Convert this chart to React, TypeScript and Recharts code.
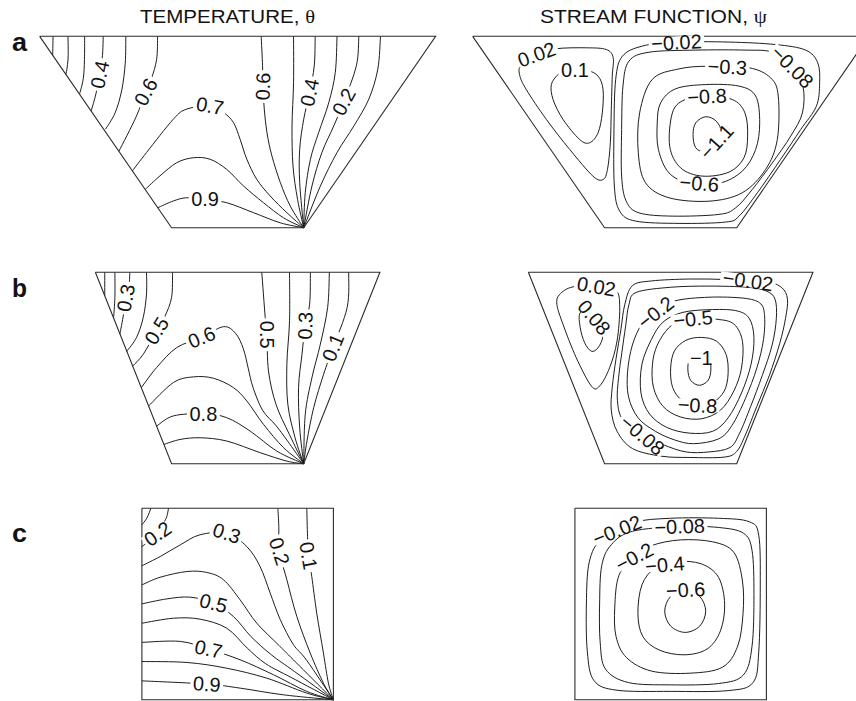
import React from 'react';
import { ComposedChart, Line, Scatter, XAxis, YAxis } from 'recharts';

type Pt = [number, number];
type Contour = { level: number; pts: Pt[] };
type Tag = { text: string; x: number; y: number; rot: number };

// ---- cavity outlines (x in units of depth, centred; y = height above floor) ----
const outlineA: Pt[] = [[-1.034, 1], [-0.345, 0], [0.345, 0], [1.034, 1], [-1.034, 1]];
const outlineB: Pt[] = [[-0.743, 1], [-0.345, 0], [0.345, 0], [0.743, 1], [-0.743, 1]];
const outlineC: Pt[] = [[-0.5, 1], [-0.5, 0], [0.5, 0], [0.5, 1], [-0.5, 1]];

// ---- row a : temperature ----
const tempALines: Contour[] = [
  { level: 0.1, pts: [[-0.964, 1], [-0.965, 0.95], [-0.966, 0.9]] },
  { level: 0.2, pts: [[-0.886, 1], [-0.885, 0.9], [-0.89, 0.84], [-0.897, 0.8]] },
  { level: 0.3, pts: [[-0.799, 1], [-0.8, 0.88], [-0.806, 0.78], [-0.825, 0.7]] },
  { level: 0.4, pts: [[-0.702, 1], [-0.706, 0.9], [-0.72, 0.8], [-0.74, 0.7], [-0.765, 0.61]] },
  { level: 0.5, pts: [[-0.584, 1], [-0.587, 0.86], [-0.605, 0.72], [-0.64, 0.6], [-0.69, 0.515]] },
  { level: 0.6, pts: [[-0.418, 1], [-0.423, 0.88], [-0.45, 0.78], [-0.48, 0.71], [-0.53, 0.58], [-0.62, 0.4]] },
  { level: 0.7, pts: [[-0.55, 0.297], [-0.476, 0.393], [-0.336, 0.567], [-0.266, 0.62], [-0.144, 0.637], [-0.074, 0.602], [-0.022, 0.55], [0.013, 0.462], [0.048, 0.358], [0.1, 0.253], [0.17, 0.166], [0.257, 0.079], [0.345, 0]] },
  { level: 0.8, pts: [[-0.483, 0.2], [-0.406, 0.271], [-0.318, 0.34], [-0.231, 0.366], [-0.144, 0.358], [-0.057, 0.305], [0.031, 0.218], [0.135, 0.131], [0.24, 0.052], [0.345, 0]] },
  { level: 0.9, pts: [[-0.417, 0.105], [-0.336, 0.14], [-0.266, 0.157], [-0.17, 0.148], [-0.057, 0.131], [0.083, 0.079], [0.223, 0.026], [0.345, 0]] },
  { level: 0.6, pts: [[0.123, 1], [0.13, 0.846], [0.132, 0.738], [0.139, 0.62], [0.153, 0.497], [0.179, 0.375], [0.223, 0.236], [0.275, 0.113], [0.345, 0]] },
  { level: 0.5, pts: [[0.292, 1], [0.292, 0.759], [0.284, 0.532], [0.289, 0.323], [0.313, 0.148], [0.345, 0]] },
  { level: 0.4, pts: [[0.405, 1], [0.4, 0.846], [0.376, 0.707], [0.345, 0.567], [0.324, 0.41], [0.324, 0.236], [0.345, 0]] },
  { level: 0.3, pts: [[0.519, 1], [0.51, 0.812], [0.476, 0.654], [0.423, 0.497], [0.38, 0.358], [0.353, 0.183], [0.345, 0]] },
  { level: 0.2, pts: [[0.633, 1], [0.62, 0.846], [0.554, 0.658], [0.502, 0.532], [0.44, 0.393], [0.388, 0.218], [0.345, 0]] },
  { level: 0.1, pts: [[0.746, 1], [0.732, 0.829], [0.685, 0.672], [0.607, 0.532], [0.519, 0.393], [0.432, 0.218], [0.345, 0]] },
];
const tempALabels: Tag[] = [
  { text: '0.4', x: -0.72, y: 0.8, rot: -78 },
  { text: '0.6', x: -0.48, y: 0.71, rot: -62 },
  { text: '0.7', x: -0.144, y: 0.637, rot: 10 },
  { text: '0.9', x: -0.17, y: 0.148, rot: 0 },
  { text: '0.6', x: 0.132, y: 0.738, rot: -88 },
  { text: '0.4', x: 0.376, y: 0.707, rot: -78 },
  { text: '0.2', x: 0.554, y: 0.658, rot: -62 },
];

// ---- row a : stream function ----
const psiALines: Contour[] = [
  { level: 0.02, pts: [[-0.78, 0.85], [-0.7, 0.905], [-0.6, 0.935], [-0.44, 0.94], [-0.336, 0.931], [-0.3, 0.888], [-0.305, 0.792], [-0.31, 0.618], [-0.315, 0.444], [-0.33, 0.305], [-0.353, 0.252], [-0.406, 0.27], [-0.527, 0.409], [-0.649, 0.566], [-0.754, 0.722], [-0.789, 0.8]] },
  { level: 0.1, pts: [[-0.588, 0.8], [-0.545, 0.827], [-0.44, 0.823], [-0.379, 0.792], [-0.353, 0.722], [-0.357, 0.6], [-0.379, 0.496], [-0.423, 0.444], [-0.475, 0.461], [-0.562, 0.566], [-0.614, 0.67], [-0.623, 0.748]] },
  { level: -0.02, pts: [[-0.252, 0.896], [-0.148, 0.949], [0.026, 0.97], [0.305, 0.97], [0.548, 0.957], [0.705, 0.928], [0.768, 0.862], [0.778, 0.757], [0.761, 0.635], [0.679, 0.513], [0.574, 0.357], [0.453, 0.183], [0.357, 0.061], [0.287, 0.03], [0.044, 0.023], [-0.183, 0.035], [-0.266, 0.087], [-0.294, 0.218], [-0.296, 0.513], [-0.287, 0.775]] },
  { level: -0.08, pts: [[-0.218, 0.87], [-0.113, 0.917], [0.131, 0.928], [0.392, 0.928], [0.531, 0.917], [0.635, 0.844], [0.691, 0.74], [0.688, 0.6], [0.627, 0.479], [0.531, 0.339], [0.426, 0.2], [0.339, 0.104], [0.252, 0.07], [0.009, 0.061], [-0.165, 0.078], [-0.232, 0.139], [-0.256, 0.27], [-0.256, 0.513], [-0.249, 0.74]] },
  { level: -0.3, pts: [[-0.096, 0.775], [0.044, 0.83], [0.2, 0.844], [0.409, 0.836], [0.522, 0.783], [0.562, 0.688], [0.557, 0.461], [0.496, 0.305], [0.374, 0.183], [0.2, 0.139], [-0.009, 0.157], [-0.131, 0.235], [-0.169, 0.392], [-0.162, 0.6]] },
  { level: -0.6, pts: [[-0.052, 0.653], [0.026, 0.726], [0.183, 0.748], [0.357, 0.74], [0.444, 0.688], [0.465, 0.548], [0.444, 0.409], [0.374, 0.296], [0.252, 0.232], [0.096, 0.235], [-0.009, 0.287], [-0.064, 0.409], [-0.07, 0.548]] },
  { level: -0.8, pts: [[0.009, 0.6], [0.07, 0.667], [0.183, 0.684], [0.322, 0.67], [0.388, 0.6], [0.402, 0.479], [0.383, 0.366], [0.305, 0.291], [0.165, 0.27], [0.052, 0.313], [-0.005, 0.426]] },
  { level: -1.1, pts: [[0.117, 0.487], [0.131, 0.548], [0.183, 0.58], [0.238, 0.557], [0.266, 0.496], [0.244, 0.426], [0.183, 0.395], [0.131, 0.418]] },
];
const psiALabels: Tag[] = [
  { text: '0.02', x: -0.7, y: 0.905, rot: -20 },
  { text: '0.1', x: -0.5, y: 0.825, rot: 0 },
  { text: '\u22120.02', x: 0.03, y: 0.968, rot: -3 },
  { text: '\u22120.08', x: 0.635, y: 0.84, rot: 45 },
  { text: '\u22120.3', x: 0.296, y: 0.84, rot: 3 },
  { text: '\u22120.8', x: 0.19, y: 0.686, rot: -3 },
  { text: '\u22121.1', x: 0.24, y: 0.45, rot: -48 },
  { text: '\u22120.6', x: 0.15, y: 0.232, rot: 5 },
];

// ---- row b : temperature ----
const tempBLines: Contour[] = [
  { level: 0.1, pts: [[-0.694, 1], [-0.694, 0.878]] },
  { level: 0.2, pts: [[-0.641, 1], [-0.641, 0.87], [-0.648, 0.76]] },
  { level: 0.3, pts: [[-0.563, 1], [-0.568, 0.92], [-0.584, 0.866], [-0.596, 0.78], [-0.615, 0.677]] },
  { level: 0.4, pts: [[-0.476, 1], [-0.476, 0.887], [-0.493, 0.764], [-0.528, 0.66], [-0.58, 0.586]] },
  { level: 0.5, pts: [[-0.34, 1], [-0.345, 0.869], [-0.38, 0.77], [-0.423, 0.695], [-0.493, 0.572], [-0.548, 0.511]] },
  { level: 0.6, pts: [[-0.503, 0.398], [-0.423, 0.503], [-0.318, 0.607], [-0.188, 0.66], [-0.074, 0.716], [-0.01, 0.68], [0.03, 0.6], [0.055, 0.5], [0.08, 0.4], [0.13, 0.28], [0.2, 0.2], [0.26, 0.12], [0.345, 0]] },
  { level: 0.7, pts: [[-0.465, 0.302], [-0.336, 0.424], [-0.231, 0.454], [-0.127, 0.447], [-0.022, 0.398], [0.048, 0.328], [0.135, 0.206], [0.24, 0.084], [0.345, 0]] },
  { level: 0.8, pts: [[-0.423, 0.197], [-0.336, 0.25], [-0.179, 0.262], [-0.057, 0.241], [0.065, 0.171], [0.205, 0.066], [0.345, 0]] },
  { level: 0.9, pts: [[-0.385, 0.101], [-0.301, 0.127], [-0.196, 0.136], [-0.057, 0.119], [0.118, 0.058], [0.257, 0.014], [0.345, 0]] },
  { level: 0.5, pts: [[0.126, 1], [0.144, 0.764], [0.153, 0.674], [0.161, 0.485], [0.2, 0.311], [0.27, 0.154], [0.345, 0]] },
  { level: 0.4, pts: [[0.271, 1], [0.271, 0.747], [0.257, 0.52], [0.262, 0.311], [0.3, 0.136], [0.345, 0]] },
  { level: 0.3, pts: [[0.38, 1], [0.376, 0.834], [0.353, 0.721], [0.336, 0.572], [0.318, 0.398], [0.324, 0.188], [0.345, 0]] },
  { level: 0.2, pts: [[0.479, 1], [0.47, 0.817], [0.432, 0.625], [0.388, 0.45], [0.353, 0.258], [0.345, 0]] },
  { level: 0.1, pts: [[0.58, 1], [0.572, 0.817], [0.498, 0.607], [0.449, 0.468], [0.397, 0.293], [0.362, 0.119], [0.345, 0]] },
];
const tempBLabels: Tag[] = [
  { text: '0.3', x: -0.584, y: 0.866, rot: -80 },
  { text: '0.5', x: -0.423, y: 0.695, rot: -58 },
  { text: '0.6', x: -0.188, y: 0.66, rot: -22 },
  { text: '0.8', x: -0.179, y: 0.262, rot: 0 },
  { text: '0.5', x: 0.153, y: 0.674, rot: 90 },
  { text: '0.3', x: 0.353, y: 0.721, rot: -88 },
  { text: '0.1', x: 0.498, y: 0.607, rot: -68 },
];

// ---- row b : stream function ----
const psiBLines: Contour[] = [
  { level: 0.02, pts: [[-0.58, 0.884], [-0.51, 0.924], [-0.371, 0.928], [-0.284, 0.905], [-0.266, 0.815], [-0.28, 0.641], [-0.319, 0.501], [-0.371, 0.406], [-0.414, 0.406], [-0.493, 0.554], [-0.562, 0.728], [-0.594, 0.832]] },
  { level: 0.08, pts: [[-0.472, 0.789], [-0.406, 0.806], [-0.357, 0.745], [-0.353, 0.667], [-0.379, 0.606], [-0.414, 0.588], [-0.449, 0.632], [-0.472, 0.71]] },
  { level: -0.02, pts: [[-0.2, 0.93], [-0.1, 0.955], [0.1, 0.965], [0.3, 0.962], [0.5, 0.95], [0.58, 0.92], [0.61, 0.86], [0.6, 0.76], [0.57, 0.63], [0.515, 0.46], [0.45, 0.3], [0.39, 0.15], [0.345, 0.065], [0.28, 0.035], [0.1, 0.033], [-0.05, 0.04], [-0.2, 0.08], [-0.28, 0.17], [-0.31, 0.28], [-0.305, 0.4], [-0.285, 0.55], [-0.26, 0.7], [-0.24, 0.83]] },
  { level: -0.08, pts: [[-0.18, 0.895], [0, 0.922], [0.2, 0.928], [0.4, 0.922], [0.5, 0.902], [0.545, 0.86], [0.552, 0.76], [0.53, 0.62], [0.478, 0.46], [0.418, 0.3], [0.36, 0.16], [0.31, 0.085], [0.2, 0.062], [0.08, 0.062], [-0.04, 0.1], [-0.148, 0.15], [-0.25, 0.23], [-0.278, 0.33], [-0.272, 0.45], [-0.255, 0.58], [-0.235, 0.72], [-0.218, 0.83]] },
  { level: -0.2, pts: [[-0.078, 0.79], [0.02, 0.85], [0.2, 0.87], [0.38, 0.865], [0.465, 0.84], [0.49, 0.78], [0.485, 0.65], [0.45, 0.5], [0.39, 0.34], [0.32, 0.2], [0.25, 0.13], [0.12, 0.105], [0.02, 0.125], [-0.08, 0.17], [-0.17, 0.24], [-0.22, 0.35], [-0.225, 0.48], [-0.2, 0.62], [-0.15, 0.73]] },
  { level: -0.35, pts: [[-0.1, 0.65], [-0.04, 0.74], [0.06, 0.79], [0.2, 0.805], [0.34, 0.8], [0.41, 0.76], [0.435, 0.66], [0.42, 0.52], [0.37, 0.37], [0.3, 0.24], [0.22, 0.17], [0.1, 0.16], [-0.02, 0.19], [-0.11, 0.26], [-0.155, 0.37], [-0.15, 0.52]] },
  { level: -0.5, pts: [[-0.07, 0.62], [-0.01, 0.71], [0.06, 0.75], [0.117, 0.757], [0.24, 0.755], [0.33, 0.73], [0.375, 0.64], [0.37, 0.5], [0.33, 0.38], [0.26, 0.28], [0.16, 0.235], [0.05, 0.245], [-0.04, 0.3], [-0.09, 0.4], [-0.095, 0.52]] },
  { level: -0.8, pts: [[0, 0.5], [0.02, 0.59], [0.08, 0.645], [0.16, 0.66], [0.24, 0.64], [0.29, 0.57], [0.3, 0.47], [0.28, 0.38], [0.22, 0.32], [0.14, 0.305], [0.06, 0.33], [0.01, 0.4]] },
  { level: -1, pts: [[0.09, 0.49], [0.1, 0.545], [0.15, 0.57], [0.2, 0.55], [0.21, 0.49], [0.195, 0.435], [0.15, 0.41], [0.105, 0.435]] },
];
const psiBLabels: Tag[] = [
  { text: '0.02', x: -0.388, y: 0.926, rot: 10 },
  { text: '0.08', x: -0.4, y: 0.765, rot: 50 },
  { text: '\u22120.02', x: 0.404, y: 0.955, rot: 8 },
  { text: '\u22120.08', x: -0.148, y: 0.15, rot: 40 },
  { text: '\u22120.2', x: -0.078, y: 0.79, rot: -38 },
  { text: '\u22120.5', x: 0.117, y: 0.757, rot: -6 },
  { text: '\u22120.8', x: 0.14, y: 0.305, rot: 3 },
  { text: '\u22121', x: 0.16, y: 0.555, rot: 0 },
];

// ---- row c : temperature ----
const tempCLines: Contour[] = [
  { level: 0.1, pts: [[-0.5, 0.914], [-0.474, 0.949], [-0.453, 1]] },
  { level: 0.2, pts: [[-0.5, 0.8], [-0.418, 0.867], [-0.387, 0.922], [-0.37, 0.957], [-0.361, 1]] },
  { level: 0.3, pts: [[-0.5, 0.7], [-0.405, 0.748], [-0.3, 0.809], [-0.196, 0.862], [-0.057, 0.87], [0.048, 0.8], [0.117, 0.696], [0.17, 0.557], [0.222, 0.42], [0.29, 0.29], [0.36, 0.207], [0.5, 0]] },
  { level: 0.4, pts: [[-0.5, 0.6], [-0.405, 0.64], [-0.265, 0.67], [-0.161, 0.665], [-0.074, 0.627], [0.013, 0.522], [0.1, 0.4], [0.217, 0.283], [0.323, 0.177], [0.5, 0]] },
  { level: 0.5, pts: [[-0.5, 0.501], [-0.37, 0.527], [-0.248, 0.536], [-0.126, 0.505], [-0.022, 0.435], [0.07, 0.33], [0.176, 0.235], [0.298, 0.147], [0.5, 0]] },
  { level: 0.6, pts: [[-0.5, 0.4], [-0.335, 0.426], [-0.196, 0.421], [-0.057, 0.374], [0.05, 0.27], [0.147, 0.188], [0.279, 0.117], [0.5, 0]] },
  { level: 0.7, pts: [[-0.5, 0.3], [-0.3, 0.305], [-0.152, 0.265], [0.013, 0.209], [0.187, 0.131], [0.361, 0.044], [0.5, 0]] },
  { level: 0.8, pts: [[-0.5, 0.2], [-0.265, 0.195], [-0.057, 0.165], [0.152, 0.113], [0.361, 0.035], [0.5, 0]] },
  { level: 0.9, pts: [[-0.5, 0.099], [-0.161, 0.082], [0.013, 0.061], [0.239, 0.026], [0.5, 0]] },
  { level: 0.2, pts: [[0.21, 1], [0.215, 0.905], [0.218, 0.775], [0.257, 0.627], [0.309, 0.435], [0.379, 0.244], [0.448, 0.087], [0.5, 0]] },
  { level: 0.1, pts: [[0.361, 1], [0.365, 0.853], [0.37, 0.752], [0.387, 0.644], [0.413, 0.453], [0.448, 0.244], [0.474, 0.087], [0.5, 0]] },
];
const tempCLabels: Tag[] = [
  { text: '0.2', x: -0.418, y: 0.867, rot: -35 },
  { text: '0.3', x: -0.057, y: 0.87, rot: 18 },
  { text: '0.5', x: -0.126, y: 0.505, rot: 14 },
  { text: '0.7', x: -0.152, y: 0.265, rot: 12 },
  { text: '0.9', x: -0.161, y: 0.082, rot: 4 },
  { text: '0.2', x: 0.218, y: 0.775, rot: 72 },
  { text: '0.1', x: 0.37, y: 0.752, rot: 80 },
];

// ---- row c : stream function ----
const psiCLines: Contour[] = [
  { level: -0.02, pts: [[-0.44, 0.5], [-0.425, 0.72], [-0.36, 0.84], [-0.2, 0.925], [0, 0.948], [0.25, 0.948], [0.41, 0.93], [0.46, 0.86], [0.468, 0.6], [0.46, 0.25], [0.43, 0.09], [0.3, 0.048], [0, 0.044], [-0.28, 0.05], [-0.4, 0.1], [-0.435, 0.25]] },
  { level: -0.08, pts: [[-0.371, 0.5], [-0.36, 0.7], [-0.31, 0.81], [-0.2, 0.88], [0.047, 0.905], [0.25, 0.9], [0.38, 0.87], [0.425, 0.78], [0.435, 0.55], [0.425, 0.28], [0.38, 0.13], [0.25, 0.085], [0, 0.078], [-0.22, 0.09], [-0.34, 0.16], [-0.368, 0.3]] },
  { level: -0.2, pts: [[-0.292, 0.48], [-0.27, 0.65], [-0.19, 0.745], [-0.1, 0.805], [0.05, 0.835], [0.22, 0.825], [0.33, 0.77], [0.375, 0.62], [0.378, 0.45], [0.35, 0.28], [0.27, 0.17], [0.1, 0.139], [-0.1, 0.15], [-0.23, 0.22], [-0.285, 0.33]] },
  { level: -0.4, pts: [[-0.171, 0.45], [-0.15, 0.6], [-0.08, 0.69], [0.03, 0.722], [0.16, 0.71], [0.25, 0.64], [0.282, 0.5], [0.26, 0.36], [0.19, 0.265], [0.07, 0.235], [-0.06, 0.26], [-0.145, 0.33]] },
  { level: -0.6, pts: [[-0.031, 0.463], [0, 0.54], [0.076, 0.574], [0.152, 0.54], [0.183, 0.463], [0.152, 0.385], [0.076, 0.352], [0, 0.385]] },
];
const psiCLabels: Tag[] = [
  { text: '\u22120.02', x: -0.28, y: 0.885, rot: -22 },
  { text: '\u22120.08', x: 0.047, y: 0.905, rot: -2 },
  { text: '\u22120.2', x: -0.19, y: 0.745, rot: -28 },
  { text: '\u22120.4', x: -0.03, y: 0.705, rot: -5 },
  { text: '\u22120.6', x: 0.078, y: 0.574, rot: -3 },
];

// ---- headings ----
const columnTitles = [
  { main: 'TEMPERATURE, ', sym: '\u03b8', x: 140, len: 175 },
  { main: 'STREAM FUNCTION, ', sym: '\u03c8', x: 540, len: 227 },
];
const rowLetters = [
  { text: 'a', baseline: 50.5 },
  { text: 'b', baseline: 297 },
  { text: 'c', baseline: 542 },
];

// ---- layout ----
const S = 191.5; // pixels per unit depth
const XD: [number, number] = [-1.1, 1.1];
const YD: [number, number] = [-0.08, 1.08];
const LEFT_CX = 237.5;
const RIGHT_CX = 671;
const SANS = '"Liberation Sans", Arial, Helvetica, sans-serif';
const INK = '#121212';
const TAG_SIZE = 20;

// Catmull-Rom curves that pass through every point (open and closed variants)
const seg = (ctx: any, p0: Pt, p1: Pt, p2: Pt, p3: Pt) => {
  ctx.bezierCurveTo(
    p1[0] + (p2[0] - p0[0]) / 6, p1[1] + (p2[1] - p0[1]) / 6,
    p2[0] - (p3[0] - p1[0]) / 6, p2[1] - (p3[1] - p1[1]) / 6,
    p2[0], p2[1],
  );
};
const makeCurve = (closed: boolean) => (ctx: any) => {
  let pts: Pt[] = [];
  return {
    areaStart() {},
    areaEnd() {},
    lineStart() { pts = []; },
    point(x: number, y: number) { pts.push([+x, +y]); },
    lineEnd() {
      const n = pts.length;
      if (!n) return;
      ctx.moveTo(pts[0][0], pts[0][1]);
      if (closed) {
        for (let i = 0; i < n; i++) {
          seg(ctx, pts[(i - 1 + n) % n], pts[i], pts[(i + 1) % n], pts[(i + 2) % n]);
        }
        ctx.closePath();
      } else {
        for (let i = 0; i < n - 1; i++) {
          seg(ctx, pts[Math.max(i - 1, 0)], pts[i], pts[i + 1], pts[Math.min(i + 2, n - 1)]);
        }
      }
    },
  };
};
const openCurve = makeCurve(false);
const closedCurve = makeCurve(true);

const toXY = (pts: Pt[]) => pts.map(([x, y]) => ({ x, y }));

// approximate advance widths (em) of the glyphs used in contour values
const glyphEm = (ch: string) => (ch === '.' ? 0.278 : ch === '\u2212' ? 0.584 : 0.556);
const textWidth = (s: string) => s.split('').reduce((w, ch) => w + glyphEm(ch), 0) * TAG_SIZE;

// contour value drawn along its line; a white strip behind it opens the gap in the line
const ContourTag = (props: any) => {
  const { cx, cy, payload } = props;
  if (cx == null || cy == null || !payload) return null;
  const w = textWidth(payload.text);
  return (
    <g transform={`translate(${cx} ${cy}) rotate(${payload.rot})`}>
      <rect x={-w / 2 - 2.5} y={-6} width={w + 5} height={12} fill="#ffffff" />
      <text
        x={0}
        y={0}
        textAnchor="middle"
        dominantBaseline="central"
        fontFamily={SANS}
        fontSize={TAG_SIZE}
        fill={INK}
      >
        {payload.text}
      </text>
    </g>
  );
};

type PanelProps = {
  cx: number;
  bottom: number;
  outline: Pt[];
  lines: Contour[];
  labels: Tag[];
  closed: boolean;
};

const W = (XD[1] - XD[0]) * S;
const H = (YD[1] - YD[0]) * S;
const chartMargin = { top: 0, right: 0, bottom: 0, left: 0 };

const Panel = ({ cx, bottom, outline, lines, labels, closed }: PanelProps) => {
  const box = { position: 'absolute' as const, left: cx + XD[0] * S, top: bottom - YD[1] * S, width: W, height: H };
  return (
    <>
      <div style={box}>
        <ComposedChart width={W} height={H} margin={chartMargin}>
          <XAxis type="number" dataKey="x" domain={XD} hide allowDataOverflow />
          <YAxis type="number" dataKey="y" domain={YD} hide allowDataOverflow />
          {lines.map((c, i) => (
            <Line
              key={`c${i}`}
              data={toXY(c.pts)}
              dataKey="y"
              type={closed ? (closedCurve as any) : (openCurve as any)}
              stroke={INK}
              strokeWidth={0.95}
              dot={false}
              activeDot={false}
              isAnimationActive={false}
            />
          ))}
          <Line
            data={toXY(outline)}
            dataKey="y"
            type="linear"
            stroke="#2b2b2b"
            strokeWidth={1.1}
            dot={false}
            activeDot={false}
            isAnimationActive={false}
          />
        </ComposedChart>
      </div>
      <div style={box}>
        <ComposedChart width={W} height={H} margin={chartMargin}>
          <XAxis type="number" dataKey="x" domain={XD} hide allowDataOverflow />
          <YAxis type="number" dataKey="y" domain={YD} hide allowDataOverflow />
          <Scatter data={labels} dataKey="y" shape={ContourTag} isAnimationActive={false} />
        </ComposedChart>
      </div>
    </>
  );
};

export default function App() {
  return (
    <div style={{ position: 'absolute', left: 0, top: 0, width: 856, height: 701, overflow: 'hidden', background: '#ffffff' }}>
      <Panel cx={LEFT_CX} bottom={228.3} outline={outlineA} lines={tempALines} labels={tempALabels} closed={false} />
      <Panel cx={RIGHT_CX} bottom={228.3} outline={outlineA} lines={psiALines} labels={psiALabels} closed />
      <Panel cx={LEFT_CX} bottom={464.3} outline={outlineB} lines={tempBLines} labels={tempBLabels} closed={false} />
      <Panel cx={RIGHT_CX} bottom={464.3} outline={outlineB} lines={psiBLines} labels={psiBLabels} closed />
      <Panel cx={LEFT_CX} bottom={700} outline={outlineC} lines={tempCLines} labels={tempCLabels} closed={false} />
      <Panel cx={RIGHT_CX} bottom={700} outline={outlineC} lines={psiCLines} labels={psiCLabels} closed />
      <svg width={856} height={701} style={{ position: 'absolute', left: 0, top: 0, pointerEvents: 'none' }}>
        {columnTitles.map((t) => (
          <text key={t.main} x={t.x} y={22.5} fontFamily={SANS} fontSize={18.7} fill={INK} textLength={t.len} lengthAdjust="spacingAndGlyphs">
            {t.main}
            <tspan fontFamily='"Liberation Serif", "DejaVu Serif", serif'>{t.sym}</tspan>
          </text>
        ))}
        {rowLetters.map((r) => (
          <text key={r.text} x={12} y={r.baseline} fontFamily={SANS} fontSize={25} fontWeight="bold" fill={INK} textLength={15} lengthAdjust="spacingAndGlyphs">
            {r.text}
          </text>
        ))}
      </svg>
    </div>
  );
}
